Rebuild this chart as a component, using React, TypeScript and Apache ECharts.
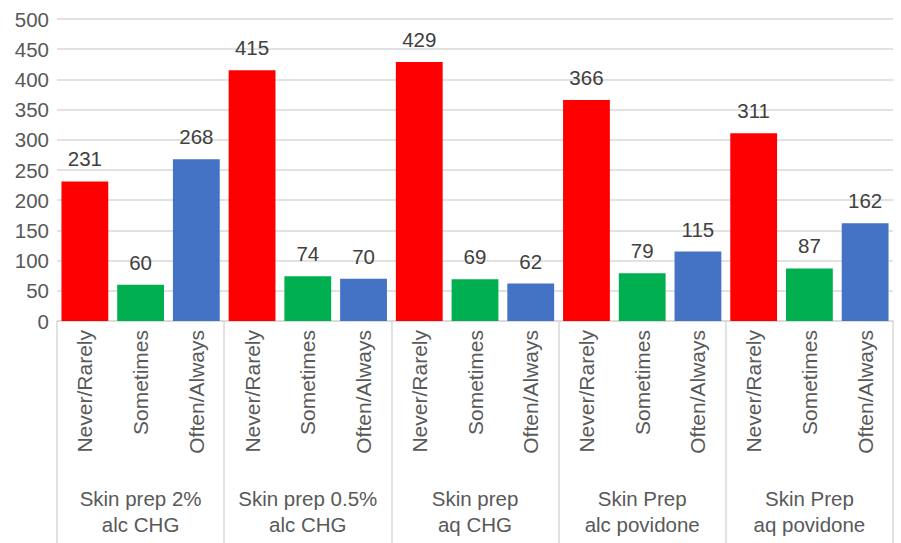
import React, { useEffect, useRef } from "react";
import * as echarts from "echarts";

const responses = [
  "Never/Rarely", "Sometimes", "Often/Always",
  "Never/Rarely", "Sometimes", "Often/Always",
  "Never/Rarely", "Sometimes", "Often/Always",
  "Never/Rarely", "Sometimes", "Often/Always",
  "Never/Rarely", "Sometimes", "Often/Always",
];
const groups = [
  "Skin prep 2%\nalc CHG",
  "Skin prep 0.5%\nalc CHG",
  "Skin prep\naq CHG",
  "Skin Prep\nalc povidone",
  "Skin Prep\naq povidone",
];
const values = [231, 60, 268, 415, 74, 70, 429, 69, 62, 366, 79, 115, 311, 87, 162];
const responseColors = ["#FF0000", "#00B050", "#4472C4"];

const FONT = "Liberation Sans";

export default function App() {
  const ref = useRef<HTMLDivElement>(null);
  useEffect(() => {
    document.body.style.margin = "0";
    const chart = echarts.init(ref.current!, null, { renderer: "svg" });
    chart.setOption({
      animation: false,
      backgroundColor: "#ffffff",
      grid: { left: 57, right: 8, top: 19, bottom: 222 },
      xAxis: [
        {
          type: "category",
          data: responses,
          position: "bottom",
          axisLine: { show: true, lineStyle: { color: "#d9d9d9", width: 1.5 } },
          axisTick: { show: false },
          axisLabel: {
            rotate: 90,
            margin: 9,
            interval: 0,
            fontFamily: FONT,
            fontSize: 21,
            color: "#595959",
          },
        },
        {
          type: "category",
          data: groups,
          position: "bottom",
          axisLine: { show: false },
          axisTick: { show: true, length: 230, lineStyle: { color: "#d9d9d9", width: 1.5 } },
          axisLabel: {
            margin: 164,
            interval: 0,
            fontFamily: FONT,
            fontSize: 20.5,
            lineHeight: 26,
            color: "#595959",
          },
        },
      ],
      yAxis: {
        type: "value",
        min: 0,
        max: 500,
        interval: 50,
        axisLine: { show: false },
        axisTick: { show: false },
        splitLine: { lineStyle: { color: "#d9d9d9", width: 1.5 } },
        axisLabel: { fontFamily: FONT, fontSize: 20.5, color: "#595959", margin: 8 },
      },
      series: [
        {
          type: "bar",
          xAxisIndex: 0,
          barCategoryGap: "16%",
          data: values.map((v, i) => ({ value: v, itemStyle: { color: responseColors[i % 3] } })),
          label: {
            show: true,
            position: "top",
            distance: 12,
            fontFamily: FONT,
            fontSize: 20.5,
            color: "#404040",
          },
        },
      ],
    });
    return () => chart.dispose();
  }, []);
  return <div ref={ref} style={{ width: 901, height: 543 }} />;
}
